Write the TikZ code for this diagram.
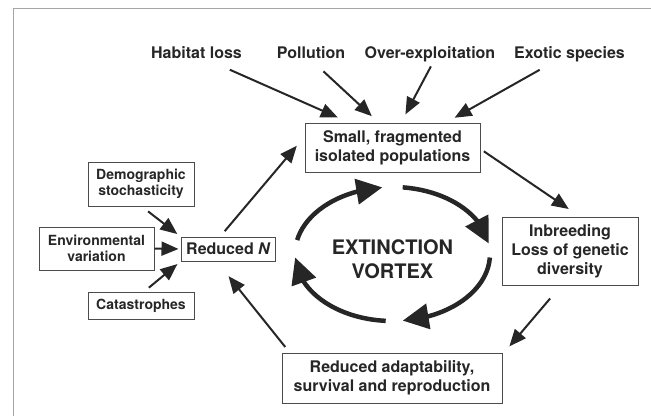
\documentclass[tikz,border=0pt]{standalone}
\usepackage{fontspec}
\setmainfont{TeX Gyre Heros}
\usetikzlibrary{arrows.meta,bending}

\begin{document}
\begin{tikzpicture}[x=1pt, y=1pt,
    box/.style={draw=black!70, line width=1pt, align=center, text=black!85,
      font=\fontsize{16}{19}\selectfont\bfseries, inner sep=0pt},
    sidebox/.style={box, font=\fontsize{14}{16.5}\selectfont\bfseries},
    cause/.style={text=black!85, font=\fontsize{16}{19}\selectfont\bfseries,
      inner sep=2pt, text height=11.5pt, text depth=3.5pt},
    >={Triangle[length=17pt,width=14pt]},
    link/.style={->, line width=2pt, draw=black!85},
    swirl/.style={-{Triangle[length=26pt,width=25pt]}, line width=4.5pt, draw=black!85}]

  \useasboundingbox (0,0) rectangle (651,-416);
  \draw[black!35, line width=1pt] (13,-416) |- (651,-8);

  \node[cause] (habitat) at (196.5,-54.5) {Habitat loss};
  \node[cause] (pollution) at (311,-54.5) {Pollution};
  \node[cause] (overexp) at (430,-54.5) {Over-exploitation};
  \node[cause] (exotic) at (569.5,-54.5) {Exotic species};

  \node[box, minimum width=175pt, minimum height=49pt] (small) at (392.5,-147.5)
    {Small, fragmented\\isolated populations};
  \node[box, minimum width=136pt, minimum height=68pt] (inbreed) at (570,-251.5)
    {Inbreeding\\Loss of genetic\\diversity};
  \node[box, minimum width=220pt, minimum height=50pt] (adapt) at (392,-378)
    {Reduced adaptability,\\survival and reproduction};
  \node[box, minimum width=94pt, minimum height=24pt] (redN) at (228,-249)
    {Reduced {\itshape N}};
  \node[sidebox, minimum width=106pt, minimum height=44pt] (demo) at (141,-184)
    {Demographic\\stochasticity};
  \node[sidebox, minimum width=115pt, minimum height=43pt] (envvar) at (96.5,-248.5)
    {Environmental\\variation};
  \node[sidebox, minimum width=106pt, minimum height=27pt] (catas) at (141,-305.5)
    {Catastrophes};

  \node[text=black!85, font=\fontsize{20}{24}\selectfont\bfseries, align=center]
    (vtext) at (392.5,-259) {EXTINCTION\\VORTEX};
  \coordinate (vc) at (392.5,-254);

  \draw[link, shorten <=13.7pt, shorten >=12.4pt] (habitat.-25.4) -- (small.150.4);
  \draw[link, shorten <=10.5pt, shorten >=9.3pt] (pollution.-64.2) -- (small.119.7);
  \draw[link, shorten <=2.5pt, shorten >=9.2pt] (overexp.-78) -- (small.71.9);
  \draw[link, shorten <=11.4pt, shorten >=9.7pt] (exotic.-154.8) -- (small.25.8);

  \draw[link, shorten <=4pt, shorten >=14.2pt] (small.-1.2) -- (inbreed.73.6);
  \draw[link, shorten <=16.4pt, shorten >=10.6pt] (inbreed.-105.2) -- (adapt.12.9);
  \draw[link, shorten <=7.1pt, shorten >=18.8pt] (adapt.166.7) -- (redN.-132.2);
  \draw[link, shorten <=7pt, shorten >=11.9pt] (redN.122) -- (small.173.5);

  \draw[link, shorten <=8pt, shorten >=4pt] (demo.-88.4) -- (redN.north west);
  \draw[link, shorten >=2pt] (envvar.east) -- (redN.west);
  \draw[link, shorten <=6pt, shorten >=4pt] (catas.77.5) -- (redN.south west);

  \draw[swirl] ([shift={(168:97.5pt and 67pt)}]vc)
    arc[start angle=168, end angle=96, x radius=97.5pt, y radius=67pt];
  \draw[swirl] ([shift={(84:97.5pt and 67pt)}]vc)
    arc[start angle=84, end angle=9, x radius=97.5pt, y radius=67pt];
  \draw[swirl] ([shift={(-3:97.5pt and 67pt)}]vc)
    arc[start angle=-3, end angle=-84, x radius=97.5pt, y radius=67pt];
  \draw[swirl] ([shift={(-94:97.5pt and 67pt)}]vc)
    arc[start angle=-94, end angle=-177, x radius=97.5pt, y radius=67pt];
\end{tikzpicture}
\end{document}
